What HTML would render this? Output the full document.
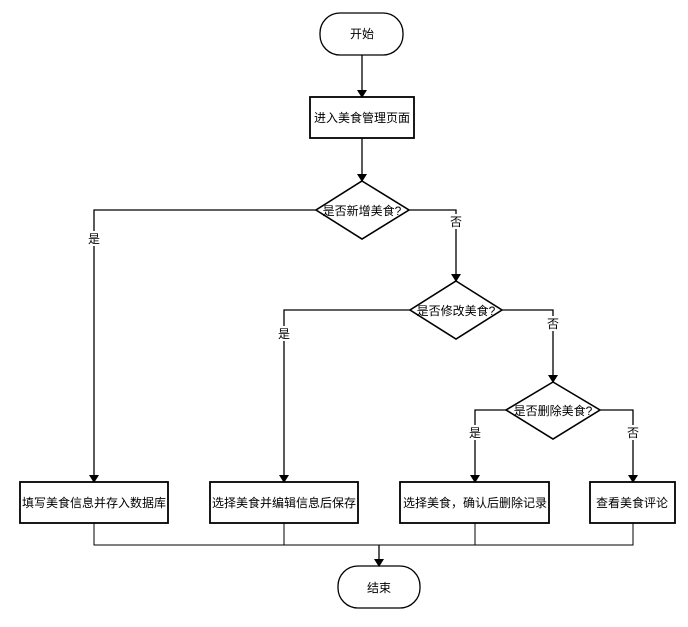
<!DOCTYPE html>
<html><head><meta charset="utf-8"><style>
body{margin:0;background:#fff}
text{font-family:"Liberation Sans","Noto Sans CJK SC",sans-serif;font-size:12px;fill:#000}
</style></head><body>
<svg width="688" height="622" viewBox="0 0 688 622" xmlns="http://www.w3.org/2000/svg">
<defs><marker id="a" markerWidth="8" markerHeight="10" refX="7" refY="5" orient="auto" markerUnits="userSpaceOnUse"><path d="M0,0 L8,5 L0,10 Z" fill="#000"/></marker></defs>
<g fill="none" stroke="#000" stroke-width="1.3">
<rect x="320" y="13" width="83" height="42" rx="20"/>
<rect x="310" y="97" width="104" height="41" stroke-width="1.8"/>
<path d="M362,181 L409,210 L362,239 L316,210 Z" stroke-width="1.6"/>
<path d="M456,281 L502,310 L456,339 L410,310 Z" stroke-width="1.6"/>
<path d="M553,382 L600,410 L553,439 L506,410 Z" stroke-width="1.6"/>
<rect x="20" y="482" width="148" height="41" stroke-width="1.8"/>
<rect x="210" y="482" width="148" height="41" stroke-width="1.8"/>
<rect x="400" y="482" width="149" height="41" stroke-width="1.8"/>
<rect x="590" y="482" width="85" height="41" stroke-width="1.8"/>
<rect x="338" y="566" width="82" height="42" rx="20"/>
<path d="M362,55 V97" marker-end="url(#a)"/>
<path d="M362,138 V181" marker-end="url(#a)"/>
<path d="M316,210 H94 V482" marker-end="url(#a)"/>
<path d="M409,210 H456 V281" marker-end="url(#a)"/>
<path d="M410,310 H284 V482" marker-end="url(#a)"/>
<path d="M502,310 H553 V382" marker-end="url(#a)"/>
<path d="M506,410 H475 V482" marker-end="url(#a)"/>
<path d="M600,410 H633 V482" marker-end="url(#a)"/>
<path d="M94,523 V545 H633 V523 M284,523 V545 M475,523 V545" stroke-width="1"/>
<path d="M379,545 V566" marker-end="url(#a)"/>
</g>
<g fill="#fff"><rect x="88" y="231" width="13" height="15"/><rect x="450" y="214" width="13" height="15"/><rect x="278" y="326" width="13" height="15"/><rect x="547" y="316" width="13" height="15"/><rect x="469" y="425" width="13" height="15"/><rect x="627" y="425" width="13" height="15"/></g>
<g text-anchor="middle">
<text x="362" y="38">开始</text>
<text x="362" y="122">进入美食管理页面</text>
<text x="362" y="215">是否新增美食?</text>
<text x="456" y="315">是否修改美食?</text>
<text x="553" y="415">是否删除美食?</text>
<text x="94" y="243">是</text>
<text x="456" y="226">否</text>
<text x="284" y="338">是</text>
<text x="553" y="328">否</text>
<text x="475" y="437">是</text>
<text x="633" y="437">否</text>
<text x="94" y="507">填写美食信息并存入数据库</text>
<text x="284" y="507">选择美食并编辑信息后保存</text>
<text x="475" y="507">选择美食，确认后删除记录</text>
<text x="632" y="507">查看美食评论</text>
<text x="379" y="592">结束</text>
</g>
</svg>
</body></html>
